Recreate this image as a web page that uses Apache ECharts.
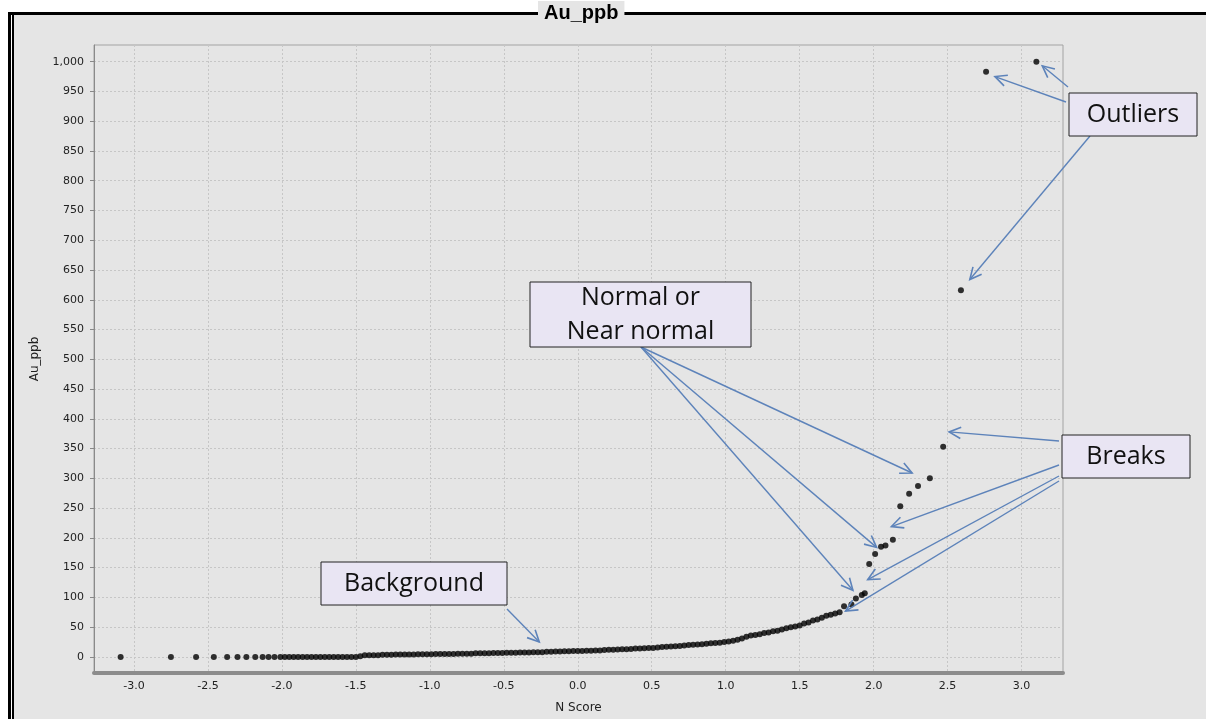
<!DOCTYPE html>
<html>
<head>
<meta charset="utf-8">
<title>Au_ppb normal score plot</title>
<script src="https://cdn.jsdelivr.net/npm/echarts@6/dist/echarts.min.js"></script>
<style>
  html, body { margin: 0; padding: 0; background: #fff; width: 1206px; height: 719px; overflow: hidden; }
  #frame {
    position: absolute; left: 8px; top: 12px; right: 0; bottom: 0;
    background: #e5e5e5;
    border-left: 3px solid #000; border-top: 3px solid #000;
    box-shadow: inset 1px 0 0 #fff, inset 3px 0 0 #000;
  }
  #chart { position: absolute; left: 0; top: 0; width: 1206px; height: 719px; }
</style>
</head>
<body>
<div id="frame"></div>
<div id="chart"></div>
<script>
// Normal scores (N Score) and gold assays (Au_ppb), lowest to highest
const lowTailScore = [-3.09, -2.75, -2.58, -2.46, -2.37, -2.30, -2.24, -2.18, -2.13, -2.09,
  -2.05, -2.01, -1.98, -1.95, -1.92, -1.89, -1.86, -1.83, -1.80, -1.77,
  -1.74, -1.71, -1.68, -1.65, -1.62, -1.59, -1.56, -1.53];
const lowTailAu = [0, 0, 0, 0, 0, 0, 0, 0, 0, 0,
  0, 0, 0, 0, 0, 0, 0, 0, 0, 0,
  0, 0, 0, 0, 0, 0, 0, 0];

const bodyScore = [
  -1.50, -1.47, -1.44, -1.41, -1.38, -1.35, -1.32, -1.29, -1.26, -1.23,
  -1.20, -1.17, -1.14, -1.11, -1.08, -1.05, -1.02, -0.99, -0.96, -0.93,
  -0.90, -0.87, -0.84, -0.81, -0.78, -0.75, -0.72, -0.69, -0.66, -0.63,
  -0.60, -0.57, -0.54, -0.51, -0.48, -0.45, -0.42, -0.39, -0.36, -0.33,
  -0.30, -0.27, -0.24, -0.21, -0.18, -0.15, -0.12, -0.09, -0.06, -0.03,
  0.00, 0.03, 0.06, 0.09, 0.12, 0.15, 0.18, 0.21, 0.24, 0.27,
  0.30, 0.33, 0.36, 0.39, 0.42, 0.45, 0.48, 0.51, 0.54, 0.57,
  0.60, 0.63, 0.66, 0.69, 0.72, 0.75, 0.78, 0.81, 0.84, 0.87,
  0.90, 0.93, 0.96, 0.99, 1.02, 1.05, 1.08, 1.11, 1.14, 1.17,
  1.20, 1.23, 1.26, 1.29, 1.32, 1.35, 1.38, 1.41, 1.44, 1.47,
  1.50, 1.53, 1.56, 1.59, 1.62, 1.65, 1.68, 1.71, 1.74, 1.77];
const bodyAu = [
  0, 1, 3, 3, 3, 3, 3.5, 3.5, 3.5, 4,
  4, 4, 4, 4, 4.5, 4.5, 4.5, 4.5, 5, 5,
  5, 5, 5, 5.5, 5.5, 5.5, 5.5, 6, 6, 6,
  6, 6.5, 6.5, 6.5, 7, 7, 7, 7.5, 7.5, 7.5,
  8, 8, 8, 8.5, 8.5, 9, 9, 9.5, 9.5, 10,
  10, 10, 10.5, 10.5, 11, 11, 11.5, 12, 12, 12.5,
  13, 13, 13.5, 14, 14, 14.5, 15, 15, 16, 16.5,
  17, 17.5, 18, 18.5, 19, 20, 20.5, 21, 21.5, 22,
  23, 23.5, 24, 25, 26, 27, 29, 31, 34, 36,
  37, 38, 40, 41, 43, 44, 46, 48, 50, 51,
  53, 56, 58, 61, 63, 66, 69, 71, 73, 75];

const upperScore = [1.80, 1.85, 1.88, 1.92, 1.94, 1.97, 2.01, 2.05, 2.08, 2.13,
  2.18, 2.24, 2.30, 2.38, 2.47, 2.59, 2.76, 3.10];
const upperAu = [85, 88, 98, 104, 107, 156, 173, 185, 187, 197,
  253, 274, 287, 300, 353, 616, 983, 1000];

const xTicks = [-3.0, -2.5, -2.0, -1.5, -1.0, -0.5, 0.0, 0.5, 1.0, 1.5, 2.0, 2.5, 3.0];
const yTicks = [0, 50, 100, 150, 200, 250, 300, 350, 400, 450, 500,
  550, 600, 650, 700, 750, 800, 850, 900, 950, 1000];

const nScore = lowTailScore.concat(bodyScore, upperScore);
const auPpb = lowTailAu.concat(bodyAu, upperAu);
const points = nScore.map((x, i) => [x, auPpb[i]]);

const chart = echarts.init(document.getElementById('chart'), null, { renderer: 'canvas' });

const labelFont = { fontFamily: 'DejaVu Sans', fontSize: 11, color: '#222' };

chart.setOption({
  animation: false,
  backgroundColor: 'transparent',
  title: {
    text: 'Au_ppb',
    left: 538, top: 1, padding: [2, 6],
    backgroundColor: '#e5e5e5',
    textStyle: { fontFamily: 'Liberation Sans', fontWeight: 'bold', fontSize: 20, color: '#000' }
  },
  grid: {
    left: 94, right: 143, top: 45, bottom: 43,
    show: true, backgroundColor: '#e5e5e5',
    borderColor: '#a3a3a3', borderWidth: 1
  },
  xAxis: {
    type: 'value', min: -3.27, max: 3.28,
    name: 'N Score', nameLocation: 'middle', nameGap: 29,
    nameTextStyle: { fontFamily: 'DejaVu Sans', fontSize: 12, color: '#222' },
    axisLine: { show: true, onZero: false, lineStyle: { color: '#8c8c8c', width: 4 } },
    axisTick: { show: false, customValues: xTicks },
    axisLabel: Object.assign({ customValues: xTicks, margin: 8, formatter: v => v.toFixed(1) }, labelFont),
    splitLine: { show: true, lineStyle: { color: '#c6c6c6', type: [2, 2], width: 1 } }
  },
  yAxis: {
    type: 'value', min: -27, max: 1028,
    name: 'Au_ppb', nameLocation: 'middle', nameRotate: 90, nameGap: 53,
    nameTextStyle: { fontFamily: 'DejaVu Sans', fontSize: 12, color: '#222' },
    axisLine: { show: true, onZero: false, lineStyle: { color: '#8a8a8a', width: 1 } },
    axisTick: { show: true, length: 4, customValues: yTicks, lineStyle: { color: '#888' } },
    axisLabel: Object.assign({ customValues: yTicks, margin: 10,
      formatter: v => Number(v).toLocaleString('en-US') }, labelFont),
    splitLine: { show: true, lineStyle: { color: '#c6c6c6', type: [2, 2], width: 1 } }
  },
  series: [{
    type: 'scatter',
    data: points,
    symbol: 'circle',
    symbolSize: 6,
    itemStyle: { color: '#000' },
    silent: true
  }]
});

// Call-out boxes with arrows; box rectangles in page pixels, arrow tips in data units
const notes = [
  { lines: ['Background'], box: [321, 562, 186, 43],
    arrows: [{ from: [507, 609], to: [-0.26, 25] }] },
  { lines: ['Normal or', 'Near normal'], box: [530, 282, 221, 65],
    arrows: [{ from: [641, 347], to: [2.26, 309] },
             { from: [641, 347], to: [2.02, 184] },
             { from: [641, 347], to: [1.86, 112] }] },
  { lines: ['Breaks'], box: [1062, 435, 128, 43],
    arrows: [{ from: [1059, 441], to: [2.51, 378] },
             { from: [1059, 465], to: [2.12, 219] },
             { from: [1059, 476], to: [1.96, 130] },
             { from: [1059, 481], to: [1.81, 77] }] },
  { lines: ['Outliers'], box: [1069, 93, 128, 43],
    arrows: [{ from: [1066, 102], to: [2.82, 975] },
             { from: [1068, 87], to: [3.14, 993] },
             { from: [1090, 136], to: [2.65, 634] }] }
];

const arrowColor = '#5d83ba';
function arrow(tail, tip) {
  const dx = tip[0] - tail[0], dy = tip[1] - tail[1];
  const len = Math.hypot(dx, dy);
  const ux = dx / len, uy = dy / len;
  const hl = 13, ang = 0.45, c = Math.cos(ang), s = Math.sin(ang);
  const a1 = [tip[0] - hl * (ux * c - uy * s), tip[1] - hl * (uy * c + ux * s)];
  const a2 = [tip[0] - hl * (ux * c + uy * s), tip[1] - hl * (uy * c - ux * s)];
  return [
    { type: 'line', z: 100, silent: true,
      shape: { x1: tail[0], y1: tail[1], x2: tip[0], y2: tip[1] },
      style: { stroke: arrowColor, lineWidth: 1.4 } },
    { type: 'polyline', z: 100, silent: true,
      shape: { points: [a1, tip, a2] },
      style: { stroke: arrowColor, lineWidth: 1.6, fill: 'none' } }
  ];
}

const elements = [];
notes.forEach(n => {
  const [bx, by, bw, bh] = n.box;
  elements.push({
    type: 'rect', z: 101, silent: true,
    shape: { x: bx, y: by, width: bw, height: bh },
    style: { fill: '#e9e5f3', stroke: '#222', lineWidth: 1 }
  });
  const lh = 34;
  const top = by + bh / 2 - (n.lines.length - 1) * lh / 2;
  n.lines.forEach((t, i) => {
    elements.push({
      type: 'text', z: 102, silent: true,
      x: bx + bw / 2, y: top + i * lh,
      style: { text: t, font: '25px "Open Sans"', fill: '#111',
               textAlign: 'center', textVerticalAlign: 'middle' }
    });
  });
  n.arrows.forEach(a => {
    const tip = chart.convertToPixel({ xAxisIndex: 0, yAxisIndex: 0 }, a.to);
    arrow(a.from, tip).forEach(e => elements.push(e));
  });
});

chart.setOption({ graphic: elements });
</script>
</body>
</html>
